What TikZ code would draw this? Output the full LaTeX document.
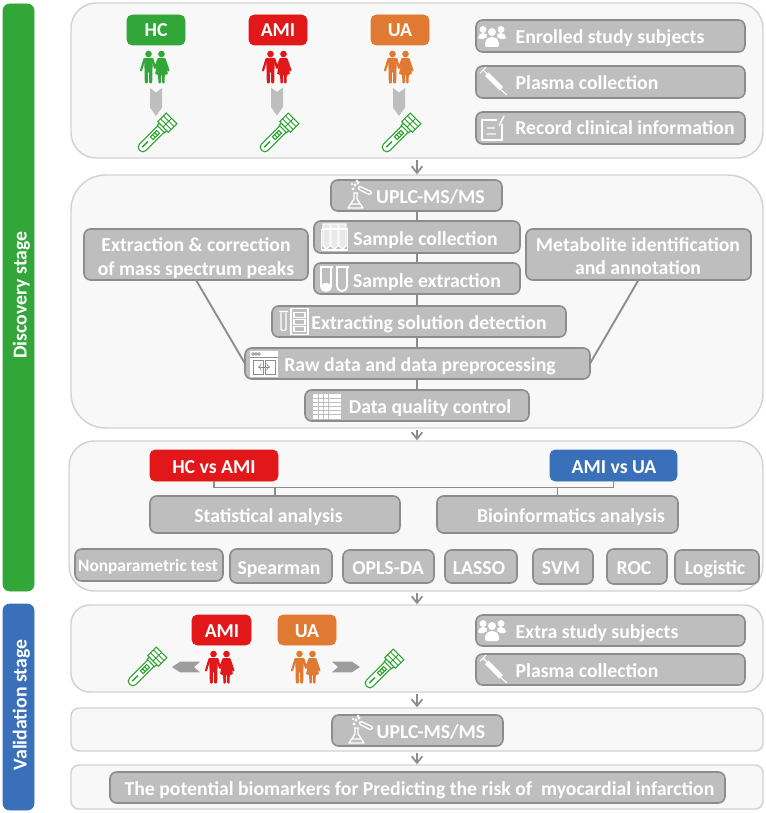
\documentclass[tikz,border=0pt]{standalone}
\usepackage{fontspec}
\setmainfont{Carlito}
\usetikzlibrary{arrows.meta,calc}
\definecolor{pfill}{HTML}{F8F8F8}
\definecolor{pline}{HTML}{D2D2D2}
\definecolor{gfill}{HTML}{BEBEBE}
\definecolor{gline}{HTML}{8C8C8C}
\definecolor{mygreen}{HTML}{33A63A}
\definecolor{myred}{HTML}{E2171A}
\definecolor{myorange}{HTML}{E07A33}
\definecolor{myblue}{HTML}{3A70B9}
\definecolor{tubegreen}{HTML}{2BA32F}
\tikzset{
 panel/.style={draw=pline,fill=pfill,line width=1.1pt,inner sep=0,outer sep=0},
 gbox/.style={draw=gline,fill=gfill,line width=1.2pt,rounded corners=5pt,inner sep=0,outer sep=0},
 tagbox/.style={rounded corners=4pt,inner sep=0,outer sep=0,line width=.6pt},
 side/.style={rounded corners=5pt,inner sep=0,outer sep=0,line width=.6pt},
 txt/.style={text=white,font=\fontsize{#1}{#1}\selectfont\bfseries,inner sep=0,text height=13.5pt,text depth=3pt},
 txt/.default=14.8,
 link/.style={draw=gline,line width=1.4pt},
 arr/.style={draw=gline,line width=1.3pt,-{Straight Barb[length=5pt,width=8pt,line width=1.3pt]},shorten <=1.5pt,shorten >=.5pt},
 pics/couple/.style={code={
  \fill[#1] (-6.5,3.5) circle (2.5pt) (6.5,3.5) circle (2.5pt);
  \fill[#1,rounded corners=.8pt] (-11,7.5) -- (-2,7.5) -- (-2.6,20) -- (-2.8,33) -- (-5.8,33) -- (-6,21) -- (-7,21) -- (-7.2,33) -- (-10.2,33) -- (-10.4,20) -- cycle;
  \fill[#1,rounded corners=.8pt] (3,7.5) -- (10,7.5) -- (13,24) -- (9.8,24) -- (9.6,33) -- (7,33) -- (6.9,24) -- (6,24) -- (5.9,33) -- (3.3,33) -- (3.2,24) -- (0,24) -- cycle;
  \draw[#1,line width=1.6pt,line cap=round] (-10.5,8.5) -- (-14,20) (-2.5,8.5) -- (-.2,17) -- (.2,17) -- (3.5,8.5) (9.5,8.5) -- (13.5,20);
 }},
 pics/tube/.style={code={
  \begin{scope}[rotate=45,draw=tubegreen,line width=.8pt]
   \draw[rounded corners=3pt,fill=white] (7,-4.5) -- (-23,-4.5) -- (-23,4.5) -- (7,4.5);
   \fill[tubegreen] (-19,-1.2) rectangle (-11,.2);
   \draw (-6,-2) rectangle (3,2) (-3,-2) -- (-3,2) (0,-2) -- (0,2);
   \draw[fill=white] (7,-5.2) -- (10,-5.2) -- (10,5.2) -- (7,5.2) -- cycle;
   \draw[fill=white] (10,-7.5) rectangle (22,7.5);
   \draw[line width=.7pt] (14,-7.5) -- (14,7.5) (18,-7.5) -- (18,7.5) (10,0) -- (22,0);
  \end{scope}
 }},
 pics/people/.style={code={
  \fill[white] (-9,-6.5) circle (2.6pt) (9,-6.5) circle (2.6pt) (0,-4) circle (3pt);
  \fill[white,rounded corners=1.5pt] (-14,3) -- (-14,0) -- (-11,-3) -- (-6,-3) -- (-4,0) -- (-7,3) -- cycle;
  \fill[white,rounded corners=1.5pt] (14,3) -- (14,0) -- (11,-3) -- (6,-3) -- (4,0) -- (7,3) -- cycle;
  \fill[white,rounded corners=1.5pt] (-7,11) -- (-7,5) -- (-3,1) -- (3,1) -- (7,5) -- (7,11) -- cycle;
 }},
 pics/syringe/.style={code={
  \fill[white] (-7,-5) -- (-3.5,-8.5) -- (11,6) -- (7.5,9.5) -- cycle;
  \draw[white,line width=.8pt] (7,7) -- (15,14) (-12,-8) -- (-6,-14) (-9,-11) -- (-4,-6);
 }},
 pics/note/.style={code={
  \draw[white,line width=1.1pt] (9,-5) -- (9,11) -- (-11,11) -- (-11,-9) -- (4,-9);
  \draw[white,line width=1.1pt] (-6,-1) -- (2,-1) (-6,5) -- (3,5) (6,-3) -- (11,-13);
 }},
 pics/flask/.style={code={
  \draw[white,line width=1pt,line join=round] (-3,-2) -- (2,-2) (-2,-2) -- (-2,4) -- (-8,13) -- (7,13) -- (1,4) -- (1,-2) (-5,9) -- (4,9);
  \draw[white,line width=1pt,rounded corners=1pt] (3,-9) -- (16,-3) -- (14,0) -- (2,-6) -- cycle;
  \fill[white] (-3,-6) circle (1.2pt) (-1,-10) circle (1.2pt) (2,-12) circle (1.2pt) (-4,-11) circle (.9pt) (1,-14) circle (1pt);
 }},
 pics/rack/.style={code={
  \foreach \a in {-8,0,8}{\draw[white,line width=.9pt,fill=gfill!35!white] (\a-3.5,-13) -- (\a-3.5,9) -- (\a,12) -- (\a+3.5,9) -- (\a+3.5,-13) -- cycle;}
  \draw[white,line width=1pt] (-13,13) -- (13,13) (-13,-8) -- (13,-8) (-13,-8) -- (-13,13) (13,-8) -- (13,13);
 }},
 pics/utubes/.style={code={
  \foreach \a in {-8,8}{\draw[white,line width=1.4pt,rounded corners=3.5pt] (\a-5,-12) -- (\a-5,12) -- (\a+5,12) -- (\a+5,-12);
   \draw[white,line width=.9pt] (\a-6.5,-12) -- (\a+6.5,-12);}
  \fill[white,rounded corners=2pt] (-12,4) rectangle (-4,11);
 }},
 pics/extr/.style={code={
  \draw[white,line width=1pt,rounded corners=1pt] (-12,-9) -- (-12,9) -- (-7,9) -- (-7,-9) (-14,-10) -- (-5,-10);
  \draw[white,line width=1pt] (-2,-13) rectangle (15,13);
  \draw[white,line width=1pt] (1,-9) rectangle (12,-4) (1,-2) rectangle (12,3) (1,5) rectangle (12,10);
 }},
 pics/rawdoc/.style={code={
  \fill[white] (-14,-13) rectangle (14,13);
  \draw[gline,line width=.5pt] (-14,-7) -- (14,-7);
  \draw[gline,line width=.5pt] (-11,-10) circle (1pt) (-8,-10) circle (1pt) (-5,-10) circle (1pt);
  \draw[gline,line width=.5pt] (-11,-4) rectangle (-1,10) (1,-4) rectangle (11,10);
  \draw[gline,line width=.5pt,<->] (-6,3) -- (6,3);
 }},
 pics/tabl/.style={code={
  \fill[white] (-14,-12.5) rectangle (14,12.5);
  \foreach \b in {-8,-4,0,4,8}{\draw[gfill,line width=.6pt] (-14,\b) -- (14,\b);}
  \foreach \a in {-9,-4,1}{\draw[gfill,line width=.6pt] (\a,-12.5) -- (\a,12.5);}
 }}
}
\newcommand{\bx}[6]{% style, name, x0,y0,x1,y1
 \pgfmathsetlengthmacro{\bw}{(#5-#3)*.75pt}\pgfmathsetlengthmacro{\bh}{(#6-#4)*.75pt}
 \node[#1,minimum width=\bw,minimum height=\bh] (#2) at ({(#3+#5)/2},{(#4+#6)/2}) {};
}
\newcommand{\lab}[5][14.8]{\node[txt=#1] (#2) at (#3,#4) {#5};}
\newcommand{\vchev}[2]{\fill[gfill] (#1-6,#2) -- (#1,#2+4.5) -- (#1+6,#2) -- (#1+6,#2+19.5) -- (#1,#2+28) -- (#1-6,#2+19.5) -- cycle;}
\begin{document}
\begin{tikzpicture}[x=.75pt,y=-.75pt]
\useasboundingbox (0,0) rectangle (766,813);
\coordinate (ax) at (417,0);
% side bars
\bx{side,draw=mygreen,fill=mygreen}{sg}{3}{4}{34}{591}
\bx{side,draw=myblue,fill=myblue}{sb}{3}{604}{34}{810}
\node[txt=14.8,rotate=90] (sgt) at (19.5,295) {Discovery stage};
\node[txt=14.8,rotate=90] (sbt) at (19.5,705) {Validation stage};
% panels
\bx{panel,rounded corners=19pt}{p1}{71}{3}{763}{158}
\bx{panel,rounded corners=26pt}{p2}{71}{175}{763}{428}
\bx{panel,rounded corners=19pt}{p3}{69}{441}{763}{591}
\bx{panel,rounded corners=14pt}{p4}{71}{605}{763}{692}
\bx{panel,rounded corners=6pt}{p5}{71}{708}{763}{751}
\bx{panel,rounded corners=6pt}{p6}{71}{765}{763}{809}
\foreach \a/\b in {p1/p2,p2/p3,p3/p4,p4/p5,p5/p6}{\draw[arr] (\a.south -| ax) -- (\b.north -| ax);}
% panel 1
\bx{tagbox,draw=mygreen,fill=mygreen}{hc}{127}{15}{185}{45}
\bx{tagbox,draw=myred,fill=myred}{ami}{249}{15}{307}{45}
\bx{tagbox,draw=myorange,fill=myorange}{ua}{371}{15}{429}{45}
\lab{hct}{156}{30}{HC}\lab{amit}{278}{30}{AMI}\lab{uat}{400}{30}{UA}
\pic at (155,50.5) {couple=mygreen};
\pic at (277,50.5) {couple=myred};
\pic at (399,50.5) {couple=myorange};
\vchev{156}{88}\vchev{277}{87.5}\vchev{399}{88}
\pic at (156,134) {tube};\pic at (278,134) {tube};\pic at (400,134) {tube};
\bx{gbox}{en}{476}{20}{745}{52}\bx{gbox}{pl}{476}{66}{745}{98}\bx{gbox}{re}{476}{112}{745}{144}
\lab{ent}{610}{37}{Enrolled study subjects}
\lab{plt}{587}{83}{Plasma collection}
\lab{ret}{625}{128}{Record clinical information}
\pic at (492,36) {people};\pic at (492,81) {syringe};\pic at (493,129) {note};
% panel 2 links
\bx{gbox}{up}{331}{180}{502}{211}
\bx{gbox}{co}{314}{221}{520}{253}
\bx{gbox}{ex}{314}{263}{520}{294}
\bx{gbox}{so}{272}{306}{566}{337}
\bx{gbox}{ra}{245}{348}{590}{379}
\bx{gbox}{qc}{305}{390}{529}{421}
\bx{gbox}{el}{84}{229}{308}{280}
\bx{gbox}{me}{526}{229}{751}{280}
\foreach \a/\b in {up/co,co/ex,ex/so,so/ra,ra/qc}{\draw[link] (\a.south -| ax) -- (\b.north -| ax);}
\draw[link] (el.south) -- (ra.west);
\draw[link] (me.south) -- (ra.east);
\lab{upt}{430.5}{196}{UPLC-MS/MS}
\lab{cot}{425.5}{238}{Sample collection}
\lab{ext}{427}{280}{Sample extraction}
\lab{sot}{429}{322}{Extracting solution detection}
\lab{rat}{420}{364}{Raw data and data preprocessing}
\lab{qct}{430}{406}{Data quality control}
\lab{elt}{196}{244}{Extraction \& correction}
\lab{elu}{196}{268}{of mass spectrum peaks}
\lab{met}{638}{244}{Metabolite identification}
\lab{meu}{638}{267}{and annotation}
\pic at (356,195) {flask};\pic at (334.5,237) {rack};\pic at (334,279) {utubes};
\pic at (293,321.5) {extr};\pic at (264,364) {rawdoc};\pic at (327,406) {tabl};
% panel 3
\bx{tagbox,draw=myred,fill=myred}{ha}{150}{450}{278}{481}
\bx{tagbox,draw=myblue,fill=myblue}{au}{550}{450}{677}{481}
\lab{hat}{214}{466}{HC vs AMI}\lab{aut}{614}{466}{AMI vs UA}
\bx{gbox}{st}{150}{496}{400}{533}
\bx{gbox}{bi}{437}{496}{678}{533}
\draw[link] (ha.south) -- ++(0,6.5) coordinate (jn) -| (au.south);
\draw[link] (st.north) -- (st.north |- jn);
\draw[link] (bi.north) -- (bi.north |- jn);
\lab{stt}{268.5}{515}{Statistical analysis}
\lab{bit}{571}{515}{Bioinformatics analysis}
\bx{gbox}{np}{75}{549}{223}{581}
\bx{gbox}{sp}{230}{549}{332}{583}
\bx{gbox}{op}{343}{550}{434}{583}
\bx{gbox}{la}{445}{550}{517}{583}
\bx{gbox}{sv}{533}{549}{593}{584}
\bx{gbox}{ro}{607}{549}{667}{584}
\bx{gbox}{lo}{675}{550}{759}{584}
\lab[13]{npt}{148}{564}{Nonparametric test}
\lab{spt}{279}{567}{Spearman}
\lab{opt}{388}{567}{OPLS-DA}
\lab{lat}{479}{567}{LASSO}
\lab{svt}{561}{567}{SVM}
\lab{rot}{634}{567}{ROC}
\lab{lot}{715}{567}{Logistic}
% panel 4
\bx{tagbox,draw=myred,fill=myred}{vam}{192}{615}{251}{645}
\bx{tagbox,draw=myorange,fill=myorange}{vua}{278}{615}{336}{645}
\lab{vamt}{222}{630}{AMI}\lab{vuat}{307}{630}{UA}
\pic at (220,650.5) {couple=myred};
\pic at (306,650.5) {couple=myorange};
\fill[gline!85!white] (172,667) -- (180,661.7) -- (200,661.7) -- (194,667) -- (200,672.3) -- (180,672.3) -- cycle;
\fill[gline!85!white] (360,667) -- (352,661.7) -- (332,661.7) -- (338,667) -- (332,672.3) -- (352,672.3) -- cycle;
\pic at (146,668) {tube};\pic at (383,670) {tube};
\bx{gbox}{xe}{476}{615}{745}{646}\bx{gbox}{xp}{476}{654}{745}{685}
\lab{xet}{597}{631}{Extra study subjects}
\lab{xpt}{587}{670}{Plasma collection}
\pic at (492,630) {people};\pic at (492,669) {syringe};
% panel 5, 6
\bx{gbox}{vu}{332}{715}{503}{746}
\lab{vut}{431}{731}{UPLC-MS/MS}
\pic at (357,730) {flask};
\bx{gbox}{po}{110}{772}{725}{803}
\lab{pot}{419.5}{788}{The potential biomarkers for Predicting the risk of~ myocardial infarction}
\end{tikzpicture}
\end{document}
